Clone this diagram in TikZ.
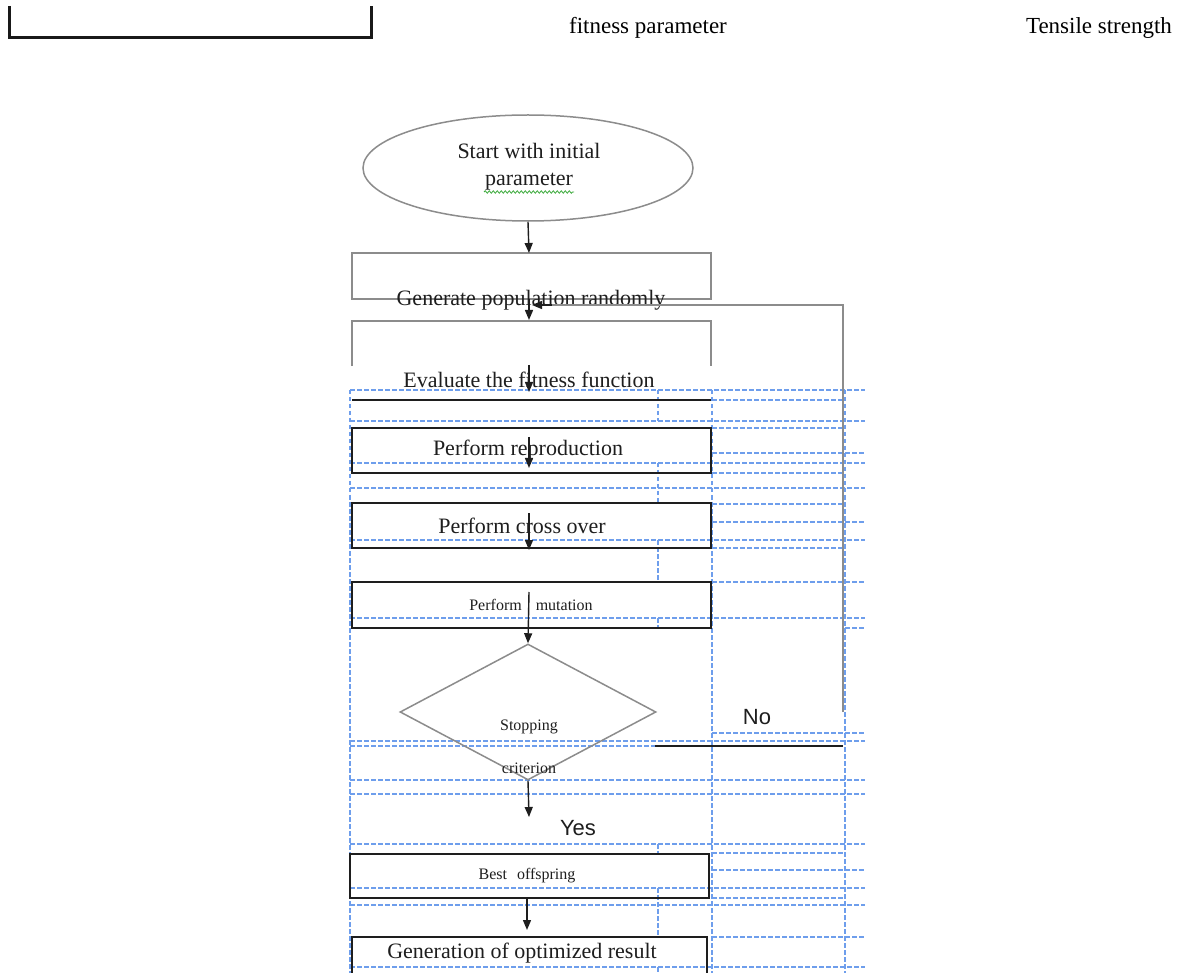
\documentclass[tikz,border=0pt]{standalone}
\usepackage{fontspec}
\setmainfont{Liberation Serif}
\newfontfamily\sansf{Liberation Sans}
\usetikzlibrary{shapes.geometric,arrows.meta,decorations.pathmorphing}
\definecolor{gridblue}{RGB}{110,158,236}
\definecolor{ink}{RGB}{30,30,30}
\definecolor{greyline}{RGB}{140,140,140}
\definecolor{spellgreen}{RGB}{60,170,60}
\tikzset{
  boxk/.style={draw=ink, line width=1.6pt, minimum width=359pt, inner sep=0pt},
  greyk/.style={draw=greyline, line width=1.5pt},
  gridk/.style={draw=gridblue, line width=1.3pt, dash pattern=on 4.5pt off 2.5pt},
  arr/.style={draw=ink, line width=1.4pt, -{Triangle[length=10pt,width=8pt]}},
  lbl/.style={text=ink, inner sep=0pt, font=\fontsize{22}{26}\selectfont},
  small/.style={text=ink, inner sep=0pt, font=\fontsize{16}{19}\selectfont},
  top/.style={text=black, inner sep=0pt, font=\fontsize{23}{27}\selectfont},
  yn/.style={text=ink, inner sep=0pt, font=\sansf\fontsize{22}{26}\selectfont},
}
\begin{document}
\begin{tikzpicture}[x=1pt,y=-1pt]
\useasboundingbox (0,0) rectangle (1184,973);
\fill[white] (0,0) rectangle (1184,973);

% blue dashed table grid
\foreach \y in {390,421,463,488,540,618,741,780,794,844,888,905,967}
  \draw[gridk] (350,\y) -- (865,\y);
\foreach \y in {400,428,473,504,548,853,898}
  \draw[gridk] (712,\y) -- (845,\y);
\foreach \y in {453,522,582,733,870,937}
  \draw[gridk] (712,\y) -- (865,\y);
\draw[gridk] (845,628) -- (865,628);
\draw[gridk] (350,746) -- (655,746);
\foreach \x in {350,712,845}
  \draw[gridk] (\x,390) -- (\x,973);
\foreach \a/\b in {390/421,463/503,540/582,618/628,844/854,888/937,967/973}
  \draw[gridk] (658,\a) -- (658,\b);

% top bracket and header texts
\coordinate (brA) at (9,6);
\coordinate (brB) at (371,6);
\draw[line width=3pt, draw=black!90] (brA) -- (9,38) -- (371,38) -- (brB);
\node[top] (hfit) at (648,28) {fitness parameter};
\node[top] (hten) at (1099,28) {Tensile strength};

% start ellipse
\node[ellipse, greyk, draw, minimum width=330pt, minimum height=106pt, inner sep=0pt] (start) at (528,168) {};
\node[lbl] (t1) at (529,151) {Start with initial};
\node[lbl] (t2) at (529,182) {parameter};
\coordinate (wavA) at (484,192);
\coordinate (wavB) at (574,192);
\draw[draw=spellgreen, line width=0.8pt, decorate, decoration={snake, amplitude=1.2pt, segment length=4pt}] (wavA) -- (wavB);

% generate population (grey box)
\node[greyk, draw, minimum width=359pt, minimum height=46pt, inner sep=0pt] (gen) at (531.5,276) {};
\node[lbl] (tgen) at (531,300) {Generate population randomly};

% evaluate (open grey box + black line)
\node[minimum width=359pt, minimum height=45pt, inner sep=0pt] (eval) at (531.5,343.5) {};
\draw[greyk] (eval.south west) -- (eval.north west) -- (eval.north east) -- (eval.south east);
\node[lbl] (teval) at (529,380) {Evaluate the fitness function};
\coordinate (evL) at (352,400);
\coordinate (evR) at (711,400);
\draw[draw=ink, line width=1.6pt] (evL) -- (evR);

% process boxes
\node[boxk, draw, minimum height=45pt] (repro) at (531.5,450.5) {};
\node[lbl] at (528,450) {Perform reproduction};
\node[boxk, draw, minimum height=45pt] (cross) at (531.5,525.5) {};
\node[lbl] at (522,526) {Perform cross over};
\node[boxk, draw, minimum height=46pt] (mut) at (531.5,605) {};
\node[small] at (531,605) {Perform\hspace{14pt}mutation};

% decision
\node[diamond, greyk, draw, minimum width=256pt, minimum height=136pt, inner sep=0pt] (stop) at (528,712) {};
\node[small] at (529,727) {Stopping};
\node[small] at (529,768) {criterion};

\node[boxk, draw, minimum height=44pt] (best) at (529.5,876) {};
\node[small] at (527,876) {Best\hspace{10pt}offspring};

% last box (open at bottom)
\node[minimum width=355pt, minimum height=40pt, inner sep=0pt] (res) at (529.5,957) {};
\draw[draw=ink, line width=1.6pt] (res.south west) -- (res.north west) -- (res.north east) -- (res.south east);
\node[lbl] at (522,953) {Generation of optimized result};

% labels
\node[yn] (no) at (757,717) {No};
\node[yn] (yes) at (578,828) {Yes};

% connectors
\draw[arr] (start.south) -- (529,253);
\draw[arr] (529,299) -- (529,320);
\coordinate (loopT) at (843,712);
\coordinate (loopH) at (843,305);
\draw[draw=greyline, line width=1.5pt] (loopT) -- (loopH) -- (550,305);
\draw[draw=ink, line width=1.4pt, -{Triangle[length=10pt,width=8pt]}] (552,305) -- (532,305);
\coordinate (noA) at (655,746);
\coordinate (noB) at (843,746);
\draw[draw=ink, line width=1.6pt] (noA) -- (noB);
\draw[arr] (529,365) -- (529,392);
\draw[arr] (529,437) -- (529,468);
\draw[arr] (529,513) -- (529,550);
\draw[arr] (529,592) -- (stop.north);
\draw[arr] (stop.south) -- (529,817);
\draw[arr] (527,898) -- (527,930);
\end{tikzpicture}
\end{document}
